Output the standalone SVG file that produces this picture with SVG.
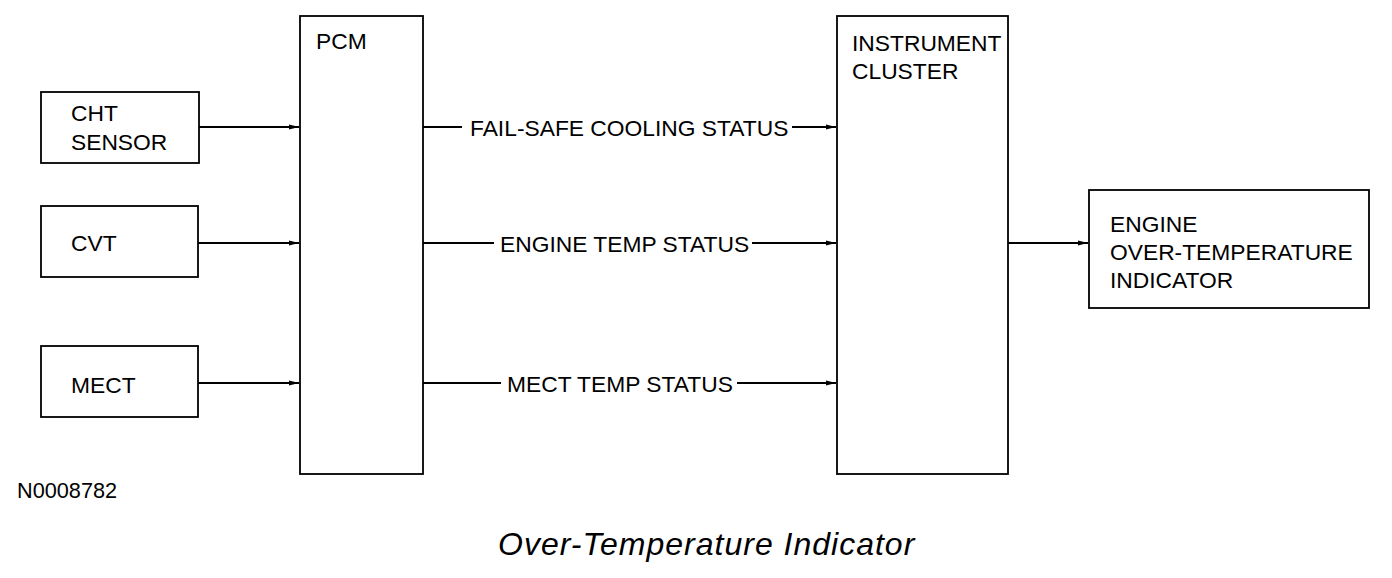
<svg xmlns="http://www.w3.org/2000/svg" width="1392" height="578" viewBox="0 0 1392 578">
<style>
.box{fill:#fff;stroke:#000;stroke-width:1.8}
.t{font-family:"Liberation Sans",Arial,sans-serif;font-size:22.8px;fill:#000}
.ln{stroke:#000;stroke-width:1.8;fill:none}
</style>
<defs>
<marker id="ah" markerWidth="10" markerHeight="8" refX="10" refY="4" orient="auto" markerUnits="userSpaceOnUse">
<path d="M0,1.5 L10,4 L0,6.5 Z" fill="#000"/>
</marker>
</defs>
<rect width="1392" height="578" fill="#fff"/>
<g id="cht"><rect class="box" x="41" y="92" width="158" height="71"/><text class="t" x="71" y="121">CHT</text><text class="t" x="71" y="150">SENSOR</text></g>
<g id="cvt"><rect class="box" x="41" y="206" width="157" height="71"/><text class="t" x="71" y="251">CVT</text></g>
<g id="mect"><rect class="box" x="41" y="346" width="157" height="71"/><text class="t" x="71" y="393">MECT</text></g>
<g id="pcm"><rect class="box" x="300" y="16" width="123" height="458"/><text class="t" x="316" y="49">PCM</text></g>
<g id="cluster"><rect class="box" x="837" y="16" width="171" height="458"/><text class="t" x="852" y="51">INSTRUMENT</text><text class="t" x="852" y="79">CLUSTER</text></g>
<g id="indicator"><rect class="box" x="1089" y="190" width="280" height="118"/><text class="t" x="1110" y="232">ENGINE</text><text class="t" x="1110" y="260">OVER-TEMPERATURE</text><text class="t" x="1110" y="288">INDICATOR</text></g>
<g id="connectors">
<line class="ln" x1="199" y1="127" x2="299" y2="127" stroke-width="2.4" marker-end="url(#ah)"/>
<line class="ln" x1="198" y1="243" x2="299" y2="243" marker-end="url(#ah)"/>
<line class="ln" x1="198" y1="383" x2="299" y2="383" marker-end="url(#ah)"/>
<line class="ln" x1="423" y1="127" x2="462" y2="127"/>
<line class="ln" x1="792" y1="127" x2="836" y2="127" marker-end="url(#ah)"/>
<line class="ln" x1="423" y1="243" x2="494" y2="243"/>
<line class="ln" x1="752" y1="243" x2="836" y2="243" marker-end="url(#ah)"/>
<line class="ln" x1="423" y1="383" x2="501" y2="383"/>
<line class="ln" x1="737" y1="383" x2="836" y2="383" marker-end="url(#ah)"/>
<line class="ln" x1="1008" y1="243" x2="1088" y2="243" marker-end="url(#ah)"/>
</g>
<text class="t" x="470" y="136">FAIL-SAFE COOLING STATUS</text>
<text class="t" x="500" y="252">ENGINE TEMP STATUS</text>
<text class="t" x="507" y="392">MECT TEMP STATUS</text>
<text class="t" x="17" y="498" style="font-size:21.7px">N0008782</text>
<text x="498" y="555" font-family="Liberation Sans,Arial,sans-serif" font-style="italic" font-size="32" letter-spacing="1">Over-Temperature Indicator</text>
</svg>
